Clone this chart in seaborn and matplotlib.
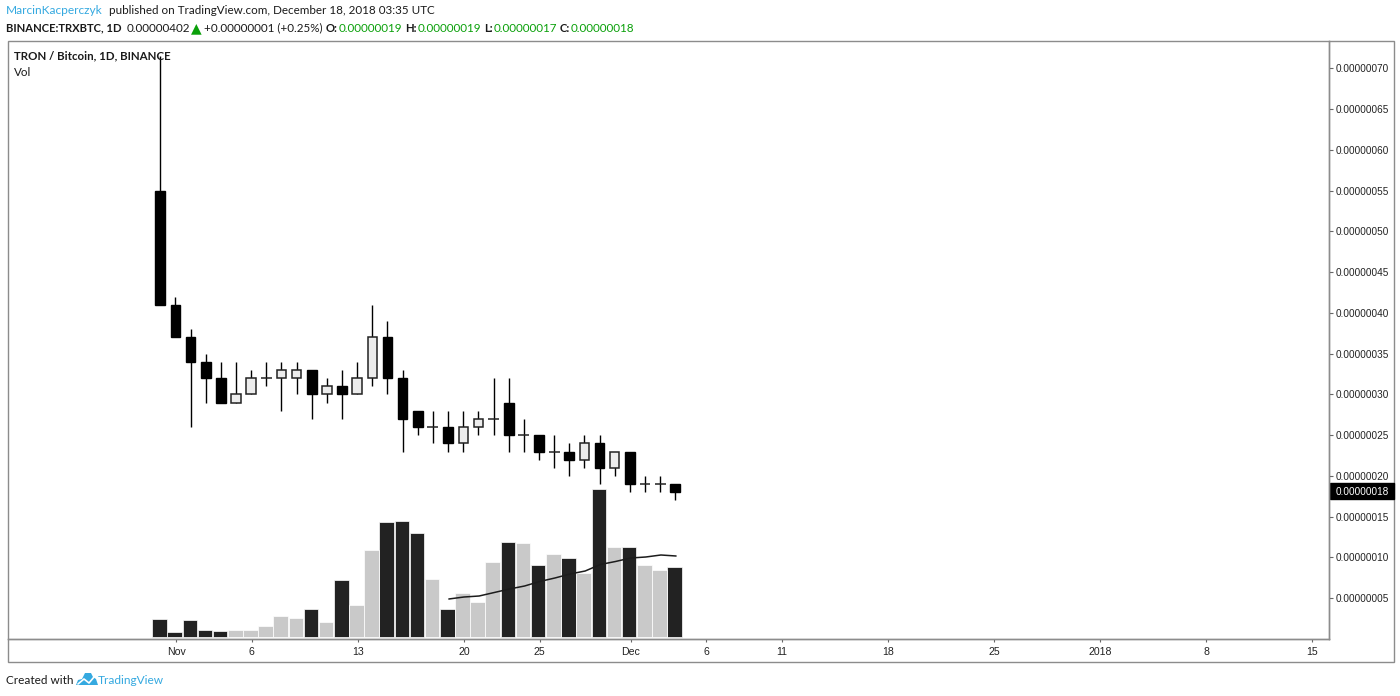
import matplotlib
matplotlib.use('Agg')
import matplotlib.pyplot as plt
import pandas as pd
import seaborn as sns
from matplotlib.lines import Line2D
from matplotlib.patches import Polygon, Rectangle

# days counted from Nov 1, prices in 1e-8 BTC
days = list(range(-1, 34))
opens = [55, 41, 37, 34, 32, 29, 30, 32, 32, 32, 33, 30, 31, 30, 32, 37, 32, 28, 26, 26, 24, 26, 27, 29, 25, 25, 23, 23, 22, 24, 21, 23, 19, 19, 19]
closes = [41, 37, 34, 32, 29, 30, 32, 32, 33, 33, 30, 31, 30, 32, 37, 32, 27, 26, 26, 24, 26, 27, 27, 25, 25, 23, 23, 22, 24, 21, 23, 19, 19, 19, 18]
highs = [71.5, 42, 38, 35, 34, 34, 33, 34, 34, 34, 33, 32, 33, 34, 41, 39, 33, 28, 28, 28, 28, 28, 32, 32, 27, 25, 25, 24, 25, 25, 23, 23, 20, 20, 19]
lows = [41, 37, 26, 29, 29, 29, 30, 31, 28, 30, 27, 29, 27, 30, 31, 30, 23, 25, 24, 23, 23, 25, 25, 23, 23, 22, 21, 20, 21, 19, 20, 18, 18, 18, 17]

volume = [18, 5, 17, 7, 6, 7, 7, 11.5, 21, 19, 28, 15, 57, 32, 87, 115, 116, 104, 58, 28, 44, 35, 75, 95, 94, 72, 83, 79, 64, 148, 90, 90, 72, 67, 70]
vol_shade = ['d', 'd', 'd', 'd', 'd', 'g', 'g', 'g', 'g', 'g', 'd', 'g', 'd', 'g', 'g', 'd', 'd', 'd',
             'g', 'd', 'g', 'g', 'g', 'd', 'g', 'd', 'g', 'd', 'g', 'd', 'g', 'd', 'g', 'g', 'd']
vol_sma = [38, 40, 41, 44.5, 48, 51, 55.5, 59, 63, 66, 72.5, 75.5, 79, 80, 82, 81]
sma_days = days[-16:]

x_ticks = [0, 5, 12, 19, 24, 30, 35, 40, 47, 54, 61, 68, 75]
x_labels = ['Nov', '6', '13', '20', '25', 'Dec', '6', '11', '18', '25', '2018', '8', '15']
y_ticks = [5, 10, 15, 20, 25, 30, 35, 40, 45, 50, 55, 60, 65, 70]

sns.set_theme(style='white')
plt.rcParams['font.family'] = ['Lato', 'DejaVu Sans']

W, H = 1400, 696
fig = plt.figure(figsize=(W / 100, H / 100), dpi=100)
ax = fig.add_axes([8 / W, 1 - 639 / H, (1329 - 8) / W, (639 - 41) / H])
vax = ax.twinx()

frame = '#8c8c8c'
ax.set_zorder(2)
vax.set_zorder(1)
ax.patch.set_visible(False)

# volume bars sit a little left of the candles on the original
vol = pd.DataFrame({'day': [d - 0.1 for d in days], 'vol': volume, 'shade': vol_shade})
sns.barplot(data=vol, x='day', y='vol', hue='shade', palette={'d': '#222222', 'g': '#c9c9c9'},
            native_scale=True, dodge=False, width=0.96, edgecolor='white', linewidth=0.5,
            legend=False, ax=vax)
sns.lineplot(x=sma_days, y=vol_sma, color='#1c1c1c', linewidth=1.1, ax=vax)
vax.set_xlabel('')
vax.set_ylabel('')
vax.set_yticks([])
vax.set_ylim(-2, 596)

# candles
for d, o, c, h, l in zip(days, opens, closes, highs, lows):
    ax.vlines(d - 0.05, l, h, color='black', linewidth=1.0, zorder=3)
    if o == c:
        ax.hlines(o, d - 0.05 - 0.36, d - 0.05 + 0.36, color='#222222', linewidth=1.1, zorder=4)
    elif c > o:
        ax.bar(d - 0.05, c - o, bottom=o, width=0.62, color='#ececec', edgecolor='#222222', linewidth=1.1, zorder=4)
    else:
        ax.bar(d - 0.05, o - c, bottom=c, width=0.64, color='black', edgecolor='black', linewidth=1, zorder=4)

# twinx shares x, so set the limits once everything is drawn
ax.set_xlim(-11.1, 76.1)
ax.set_ylim(0, 73.37)

ax.set_xticks(x_ticks)
ax.set_xticklabels(x_labels, fontfamily='Liberation Sans', fontsize=7.6, color='#222222')
ax.set_yticks(y_ticks)
ax.set_yticklabels(['0.%08d' % v for v in y_ticks], fontfamily='Liberation Sans', fontsize=7.2, color='#222222')
ax.yaxis.tick_right()
ax.tick_params(axis='x', length=2.5, width=0.8, color='#666666', pad=3.5, bottom=True)
ax.tick_params(axis='y', length=3, width=0.8, color='#666666', pad=2, right=True)
for sp in list(ax.spines.values()) + list(vax.spines.values()):
    sp.set_color(frame)
    sp.set_linewidth(1.0)
ax.spines['left'].set_visible(False)
ax.spines['top'].set_visible(False)
vax.spines['left'].set_visible(False)
vax.spines['top'].set_visible(False)

# outer frame around chart and scales
fig.add_artist(Rectangle((8 / W, 1 - 662 / H), (1394 - 8) / W, (662 - 41) / H, fill=False,
                         edgecolor=frame, linewidth=1.0, transform=fig.transFigure))

# last price flag
fig.add_artist(Rectangle((1330 / W, 1 - 499 / H), 64 / W, 16 / H, color='black', zorder=1,
                         transform=fig.transFigure))
ax.annotate('0.00000018', xy=(1.0, closes[-1]), xycoords=('axes fraction', 'data'), xytext=(4.5, 0),
            textcoords='offset points', va='center', ha='left', fontfamily='Liberation Sans',
            fontsize=7.2, color='white', zorder=6, annotation_clip=False)


def put(px, py, s, **kw):
    kw.setdefault('fontsize', 8.35)
    kw.setdefault('color', '#1a1a1a')
    fig.text(px / W, 1 - py / H, s, va='center', ha='left', zorder=10, **kw)


blue = '#35a9e0'
green = '#0aa00a'
put(6, 11, 'MarcinKacperczyk', color=blue, fontsize=8.6)
put(109, 11, 'published on TradingView.com, December 18, 2018 03:35 UTC')
put(6, 28, 'BINANCE:TRXBTC, 1D', fontweight='bold', fontsize=8.1)
put(126.5, 28, '0.00000402')
put(191, 28, '▲', color=green, fontsize=10, fontfamily='DejaVu Sans')
put(204, 28, '+0.00000001 (+0.25%)')
put(326, 28, 'O:', fontweight='bold', fontsize=8.1)
put(339, 28, '0.00000019', color=green)
put(405, 28, 'H:', fontweight='bold', fontsize=8.1)
put(417.7, 28, '0.00000019', color=green)
put(484, 28, 'L:', fontweight='bold', fontsize=8.1)
put(494, 28, '0.00000017', color=green)
put(560, 28, 'C:', fontweight='bold', fontsize=8.1)
put(571, 28, '0.00000018', color=green)
put(14, 56, 'TRON / Bitcoin, 1D, BINANCE', fontweight='bold', fontsize=8.25)
put(14, 72, 'Vol')
put(6, 680, 'Created with', fontsize=8.5)
put(98, 680, 'TradingView', color=blue, fontsize=8.6)

# small cloud logo
cloud = [(76, 685), (78, 680), (82, 679), (85, 673), (91, 673), (93, 677), (96, 679), (98, 685)]
fig.add_artist(Polygon([(x / W, 1 - y / H) for x, y in cloud], closed=True, facecolor=blue,
                       edgecolor='none', transform=fig.transFigure))
zigzag = [(78, 684), (84, 679), (89, 683), (94, 677)]
fig.add_artist(Line2D([x / W for x, y in zigzag], [1 - y / H for x, y in zigzag], color='white',
                      linewidth=1.2, transform=fig.transFigure))

fig.savefig('out.png', dpi=100)
